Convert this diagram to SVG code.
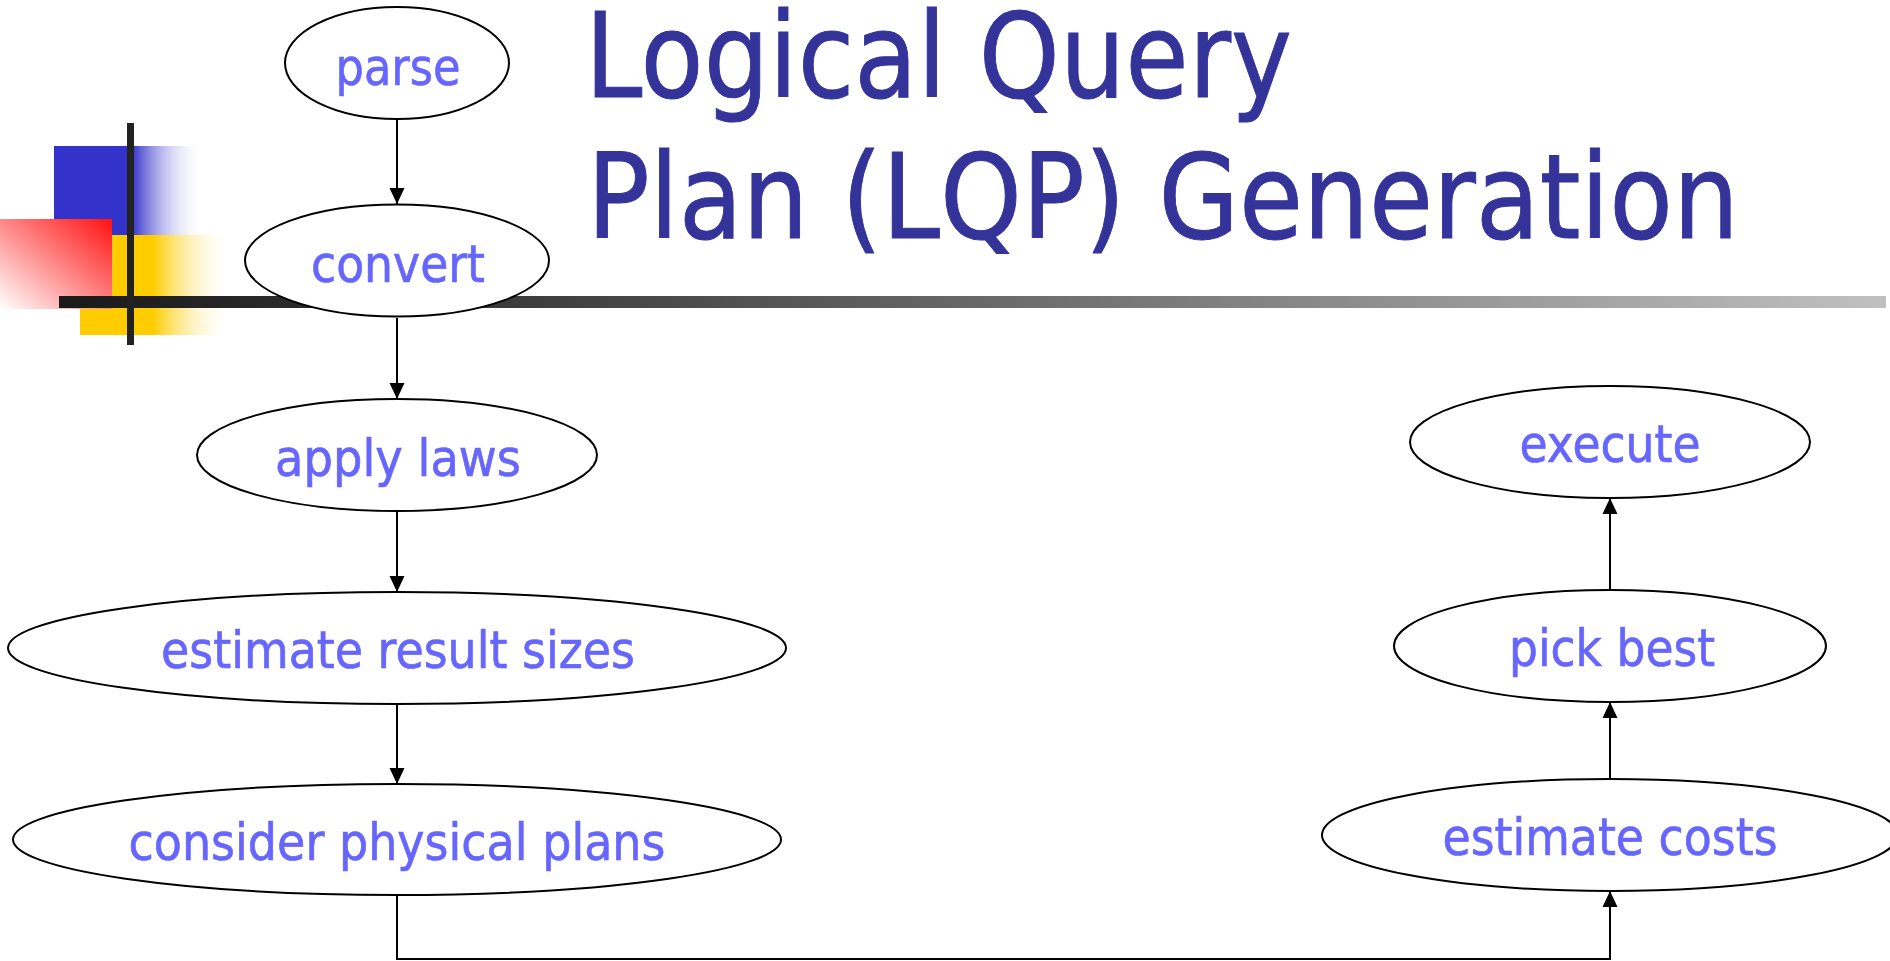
<svg xmlns="http://www.w3.org/2000/svg" width="1890" height="961" viewBox="0 0 1890 961">
<style>
.node ellipse{fill:#fff;stroke:#000;stroke-width:2}
.node text{font-family:"DejaVu Sans","Liberation Sans",sans-serif;font-size:52px;fill:#6666ff;stroke:#6666ff;stroke-width:0.7px;text-anchor:middle}
.title{font-family:"DejaVu Sans","Liberation Sans",sans-serif;font-size:118px;fill:#333399;stroke:#333399;stroke-width:1px}
.conn{fill:none;stroke:#000;stroke-width:2}
</style>
<defs>
<marker id="arr" markerUnits="userSpaceOnUse" markerWidth="18" markerHeight="18" viewBox="0 0 18 18" refX="16" refY="9" orient="auto">
<path d="M0,1.5 L16,9 L0,16.5 Z" fill="#000"/>
</marker>
<linearGradient id="gBlue" x1="0" y1="0" x2="1" y2="0">
<stop offset="0" stop-color="#3333cc"/>
<stop offset="0.52" stop-color="#3333cc"/>
<stop offset="1" stop-color="#ffffff" stop-opacity="0"/>
</linearGradient>
<linearGradient id="gYellow" x1="0" y1="0" x2="1" y2="0">
<stop offset="0" stop-color="#ffcc00"/>
<stop offset="0.48" stop-color="#ffcc00"/>
<stop offset="1" stop-color="#ffffff" stop-opacity="0"/>
</linearGradient>
<linearGradient id="gRed" x1="1" y1="0" x2="0" y2="1">
<stop offset="0" stop-color="#ff1111"/>
<stop offset="1" stop-color="#ffffff"/>
</linearGradient>
<linearGradient id="gBar" x1="0" y1="0" x2="1" y2="0">
<stop offset="0" stop-color="#1a1a1a"/>
<stop offset="0.2" stop-color="#333333"/>
<stop offset="1" stop-color="#c0c0c0"/>
</linearGradient>
</defs>

<g id="decoration">
<rect x="54" y="146" width="150" height="89" fill="url(#gBlue)"/>
<rect x="80" y="235" width="152" height="100" fill="url(#gYellow)"/>
<rect x="0" y="219" width="112" height="90" fill="url(#gRed)"/>
<rect x="59" y="296" width="1827" height="12" fill="url(#gBar)"/>
<rect x="127" y="123" width="7" height="222" fill="#222"/>
</g>

<g id="title">
<text class="title" x="585" y="97" textLength="707" lengthAdjust="spacingAndGlyphs">Logical Query</text>
<text class="title" x="587" y="238" textLength="1152" lengthAdjust="spacingAndGlyphs">Plan (LQP) Generation</text>
</g>

<g id="connectors">
<line class="conn" x1="397" y1="119" x2="397" y2="204" marker-end="url(#arr)"/>
<line class="conn" x1="397" y1="318" x2="397" y2="399" marker-end="url(#arr)"/>
<line class="conn" x1="397" y1="511" x2="397" y2="592" marker-end="url(#arr)"/>
<line class="conn" x1="397" y1="704" x2="397" y2="784" marker-end="url(#arr)"/>
<polyline class="conn" points="397,895 397,959 1610,959 1610,891" marker-end="url(#arr)"/>
<line class="conn" x1="1610" y1="779" x2="1610" y2="702" marker-end="url(#arr)"/>
<line class="conn" x1="1610" y1="590" x2="1610" y2="498" marker-end="url(#arr)"/>
</g>

<g id="parse" class="node">
<ellipse cx="397" cy="63" rx="112" ry="56"/>
<text x="398" y="85" textLength="125" lengthAdjust="spacingAndGlyphs">parse</text>
</g>
<g id="convert" class="node">
<ellipse cx="397" cy="260.5" rx="152" ry="56"/>
<text x="398" y="282" textLength="174" lengthAdjust="spacingAndGlyphs">convert</text>
</g>
<g id="apply-laws" class="node">
<ellipse cx="397" cy="455" rx="200" ry="56"/>
<text x="398" y="476" textLength="246" lengthAdjust="spacingAndGlyphs">apply laws</text>
</g>
<g id="estimate-result-sizes" class="node">
<ellipse cx="397" cy="648" rx="389" ry="56"/>
<text x="398" y="668" textLength="474" lengthAdjust="spacingAndGlyphs">estimate result sizes</text>
</g>
<g id="consider-physical-plans" class="node">
<ellipse cx="397" cy="839.5" rx="384" ry="55.5"/>
<text x="397" y="860" textLength="537" lengthAdjust="spacingAndGlyphs">consider physical plans</text>
</g>
<g id="estimate-costs" class="node">
<ellipse cx="1610" cy="835" rx="288" ry="56"/>
<text x="1610" y="855" textLength="335" lengthAdjust="spacingAndGlyphs">estimate costs</text>
</g>
<g id="pick-best" class="node">
<ellipse cx="1610" cy="646" rx="216" ry="56"/>
<text x="1612" y="666" textLength="206" lengthAdjust="spacingAndGlyphs">pick best</text>
</g>
<g id="execute" class="node">
<ellipse cx="1610" cy="442" rx="200" ry="56"/>
<text x="1610" y="462" textLength="181" lengthAdjust="spacingAndGlyphs">execute</text>
</g>
</svg>
